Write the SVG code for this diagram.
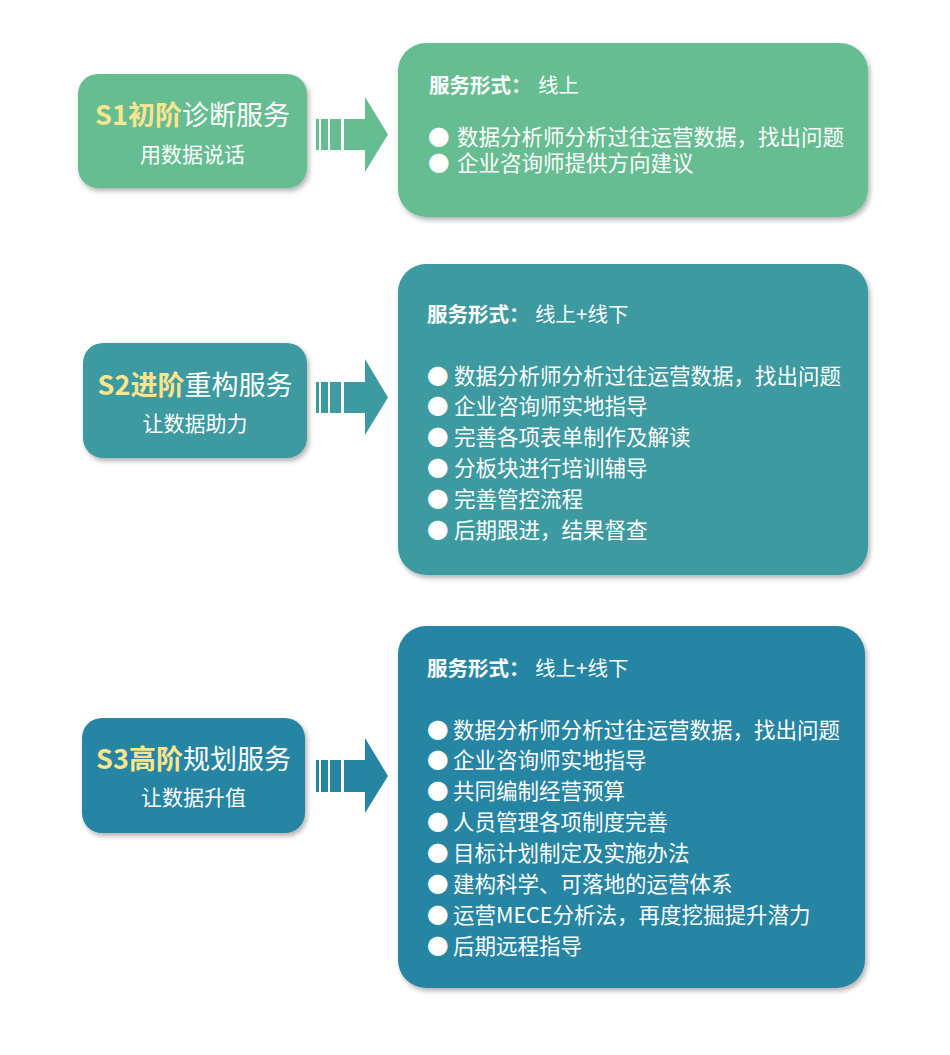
<svg xmlns="http://www.w3.org/2000/svg" width="950" height="1055" viewBox="0 0 950 1055">
<defs>
<filter id="sh" x="-10%" y="-10%" width="125%" height="130%">
<feDropShadow dx="2" dy="3" stdDeviation="2.5" flood-color="#000" flood-opacity="0.3"/>
</filter>
<style>
text{font-family:"Noto Sans CJK SC","Noto Sans",sans-serif;fill:#fff}
.t{font-size:27px;text-anchor:middle}
.y{fill:#F9E48F;font-weight:bold}
.s{font-size:21px;text-anchor:middle}
.h{font-size:20.5px}
.b{font-weight:bold}
.l{font-size:21.5px}
.g1{fill:#66BD92}
.g2{fill:#3D9AA0}
.g3{fill:#2585A3}
</style>
</defs>
<rect width="950" height="1055" fill="#fff"/>

<g id="s1">
<rect class="g1" x="78" y="74" width="229" height="114" rx="20" filter="url(#sh)"/>
<text class="t" x="192.5" y="125"><tspan class="y">S1初阶</tspan>诊断服务</text>
<text class="s" x="192.5" y="162">用数据说话</text>
</g>
<g id="r1">
<rect class="g1" x="398" y="43" width="470" height="174" rx="28" filter="url(#sh)"/>
<text class="h" x="429" y="93"><tspan class="b">服务形式：</tspan><tspan x="538">线上</tspan></text>
<text class="l"><tspan x="428" y="144.5">●</tspan><tspan x="457" y="144.5">数据分析师分析过往运营数据，找出问题</tspan><tspan x="428" y="171">●</tspan><tspan x="457" y="171">企业咨询师提供方向建议</tspan></text>
</g>

<g id="s2">
<rect class="g2" x="83" y="343" width="224" height="115" rx="20" filter="url(#sh)"/>
<text class="t" x="195" y="395"><tspan class="y">S2进阶</tspan>重构服务</text>
<text class="s" x="195" y="430.5">让数据助力</text>
</g>
<g id="r2">
<rect class="g2" x="398" y="264" width="470" height="311" rx="28" filter="url(#sh)"/>
<text class="h" x="427" y="321.5"><tspan class="b">服务形式：</tspan><tspan x="535">线上+线下</tspan></text>
<text class="l" x="427" y="383.5">●<tspan x="454">数据分析师分析过往运营数据，找出问题</tspan></text>
<text class="l" x="427" y="414.4">●<tspan x="454">企业咨询师实地指导</tspan></text>
<text class="l" x="427" y="445.3">●<tspan x="454">完善各项表单制作及解读</tspan></text>
<text class="l" x="427" y="476.2">●<tspan x="454">分板块进行培训辅导</tspan></text>
<text class="l" x="427" y="507.1">●<tspan x="454">完善管控流程</tspan></text>
<text class="l" x="427" y="538">●<tspan x="454">后期跟进，结果督查</tspan></text>
</g>

<g id="s3">
<rect class="g3" x="82" y="718" width="223" height="115" rx="20" filter="url(#sh)"/>
<text class="t" x="193.5" y="769"><tspan class="y">S3高阶</tspan>规划服务</text>
<text class="s" x="193.5" y="804.5">让数据升值</text>
</g>
<g id="r3">
<rect class="g3" x="398" y="626" width="467" height="362" rx="28" filter="url(#sh)"/>
<text class="h" x="427" y="676"><tspan class="b">服务形式：</tspan><tspan x="535">线上+线下</tspan></text>
<text class="l" x="427" y="737.5">●<tspan x="453">数据分析师分析过往运营数据，找出问题</tspan></text>
<text class="l" x="427" y="768.4">●<tspan x="453">企业咨询师实地指导</tspan></text>
<text class="l" x="427" y="799.3">●<tspan x="453">共同编制经营预算</tspan></text>
<text class="l" x="427" y="830.2">●<tspan x="453">人员管理各项制度完善</tspan></text>
<text class="l" x="427" y="861.1">●<tspan x="453">目标计划制定及实施办法</tspan></text>
<text class="l" x="427" y="892">●<tspan x="453">建构科学、可落地的运营体系</tspan></text>
<text class="l" x="427" y="922.9">●<tspan x="453">运营MECE分析法，再度挖掘提升潜力</tspan></text>
<text class="l" x="427" y="953.8">●<tspan x="453">后期远程指导</tspan></text>
</g>

<g id="connectors">
<g class="g1">
<rect x="316" y="119" width="3" height="31"/>
<rect x="321" y="119" width="7" height="31"/>
<rect x="330" y="119" width="11" height="31"/>
<path d="M344 119 H365 V97 L388 134.5 L365 172 V150 H344 Z"/>
</g>
<g class="g2">
<rect x="316" y="382" width="3" height="31"/>
<rect x="321" y="382" width="7" height="31"/>
<rect x="330" y="382" width="11" height="31"/>
<path d="M344 382 H365 V359 L388 397.5 L365 435 V413 H344 Z"/>
</g>
<g class="g3">
<rect x="316" y="760" width="3" height="32"/>
<rect x="321" y="760" width="7" height="32"/>
<rect x="330" y="760" width="11" height="32"/>
<path d="M344 760 H365 V738 L388 776 L365 813 V792 H344 Z"/>
</g>
</g>
</svg>
